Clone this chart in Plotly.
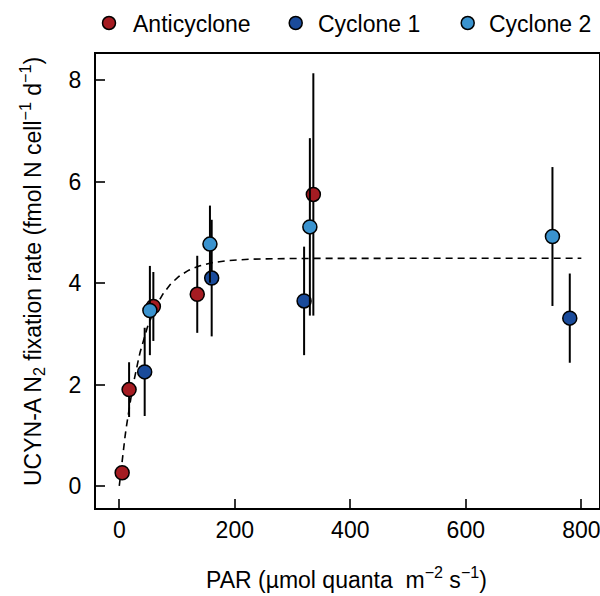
import numpy as np
import plotly.graph_objects as go

# Data
anti_par = [5, 17, 59, 135, 336]
anti_rate = [0.26, 1.90, 3.54, 3.78, 5.75]
anti_err = [0.0, 0.54, 0.68, 0.76, 2.39]

cyc1_par = [44, 160, 320, 780]
cyc1_rate = [2.25, 4.10, 3.65, 3.31]
cyc1_err = [0.87, 1.15, 1.07, 0.88]

cyc2_par = [53, 157, 330, 750]
cyc2_rate = [3.46, 4.77, 5.11, 4.92]
cyc2_err = [0.88, 0.76, 1.75, 1.37]

x_ticks = [0, 200, 400, 600, 800]
y_ticks = [0, 2, 4, 6, 8]

# Fitted saturation curve parameters (P = Pmax * (1 - exp(-k * PAR)))
PMAX = 4.49
K = 0.0245
fit_par = np.linspace(0, 800, 400)
fit_rate = PMAX * (1 - np.exp(-K * fit_par))

series_names = ["Anticyclone", "Cyclone 1", "Cyclone 2"]
colors = {"Anticyclone": "#A51C22", "Cyclone 1": "#1A4B9B", "Cyclone 2": "#3A93CF"}
FONT = "Liberation Sans, Arial, Helvetica, sans-serif"
FS = 23

# figure geometry
W, H = 600, 596
ML, MR, MT, MB = 96, 1, 54, 88
PW, PH = W - ML - MR, H - MT - MB


def pxp(X):  # pixel x -> paper
    return (X - ML) / PW


def pyp(Y):  # pixel y -> paper
    return (H - MB - Y) / PH


fig = go.Figure()

fig.add_trace(go.Scatter(
    x=fit_par, y=fit_rate, mode="lines",
    line=dict(color="black", width=1.6, dash="7px,5px"),
    showlegend=False, hoverinfo="skip"))

for name, px, py, pe in [("Anticyclone", anti_par, anti_rate, anti_err),
                         ("Cyclone 1", cyc1_par, cyc1_rate, cyc1_err),
                         ("Cyclone 2", cyc2_par, cyc2_rate, cyc2_err)]:
    fig.add_trace(go.Scatter(
        x=px, y=py, mode="markers", name=name, showlegend=False,
        marker=dict(size=14, color=colors[name], line=dict(color="black", width=1.5)),
        error_y=dict(type="data", array=pe, symmetric=True, color="black",
                     thickness=2, width=0)))

# manual legend
leg_marker_x = [109, 295.7, 467.7]
leg_text_x = [130.5, 315.5, 487.0]
shapes = []
annotations = []
for name, mx, tx in zip(series_names, leg_marker_x, leg_text_x):
    shapes.append(dict(type="circle", xref="paper", yref="paper",
                       xsizemode="pixel", ysizemode="pixel",
                       xanchor=pxp(mx), yanchor=pyp(23),
                       x0=-6.5, x1=6.5, y0=-6.5, y1=6.5,
                       fillcolor=colors[name], line=dict(color="black", width=1.5)))
    annotations.append(dict(text=name, xref="paper", yref="paper",
                            x=pxp(tx), y=pyp(24), xanchor="left", yanchor="middle",
                            showarrow=False, font=dict(size=FS)))

annotations.append(dict(
    text="UCYN-A N<sub>2</sub> fixation rate (fmol N cell<sup>−1</sup> d<sup>−1</sup>)",
    xref="paper", yref="paper", x=pxp(32), y=pyp(272), textangle=-90,
    xanchor="center", yanchor="middle", showarrow=False, font=dict(size=FS)))
annotations.append(dict(
    text="PAR (µmol quanta  m<sup>−2</sup> s<sup>−1</sup>)",
    xref="paper", yref="paper", x=pxp(346), y=pyp(578),
    xanchor="center", yanchor="middle", showarrow=False, font=dict(size=FS)))

fig.update_layout(
    width=W, height=H,
    margin=dict(l=ML, r=MR, t=MT, b=MB),
    paper_bgcolor="white", plot_bgcolor="white",
    font=dict(family=FONT, size=FS, color="black"),
    showlegend=False,
    shapes=shapes, annotations=annotations,
    xaxis=dict(range=[-40.3, 830.6], tickvals=x_ticks,
               ticks="inside", ticklen=9, tickwidth=2, tickcolor="#333",
               showline=True, linecolor="black", linewidth=2, mirror=True,
               showgrid=False, zeroline=False, automargin=False,
               ticklabeloverflow="allow"),
    yaxis=dict(range=[-0.435, 8.52], tickvals=y_ticks,
               ticks="inside", ticklen=9, tickwidth=2, tickcolor="#333",
               showline=True, linecolor="black", linewidth=2, mirror=True,
               showgrid=False, zeroline=False, automargin=False,
               ticklabelstandoff=8, ticklabeloverflow="allow"),
)

fig.write_html("out.html",
               config={"displayModeBar": False},
               post_script="document.body.style.margin='0';document.body.style.overflow='hidden';")
